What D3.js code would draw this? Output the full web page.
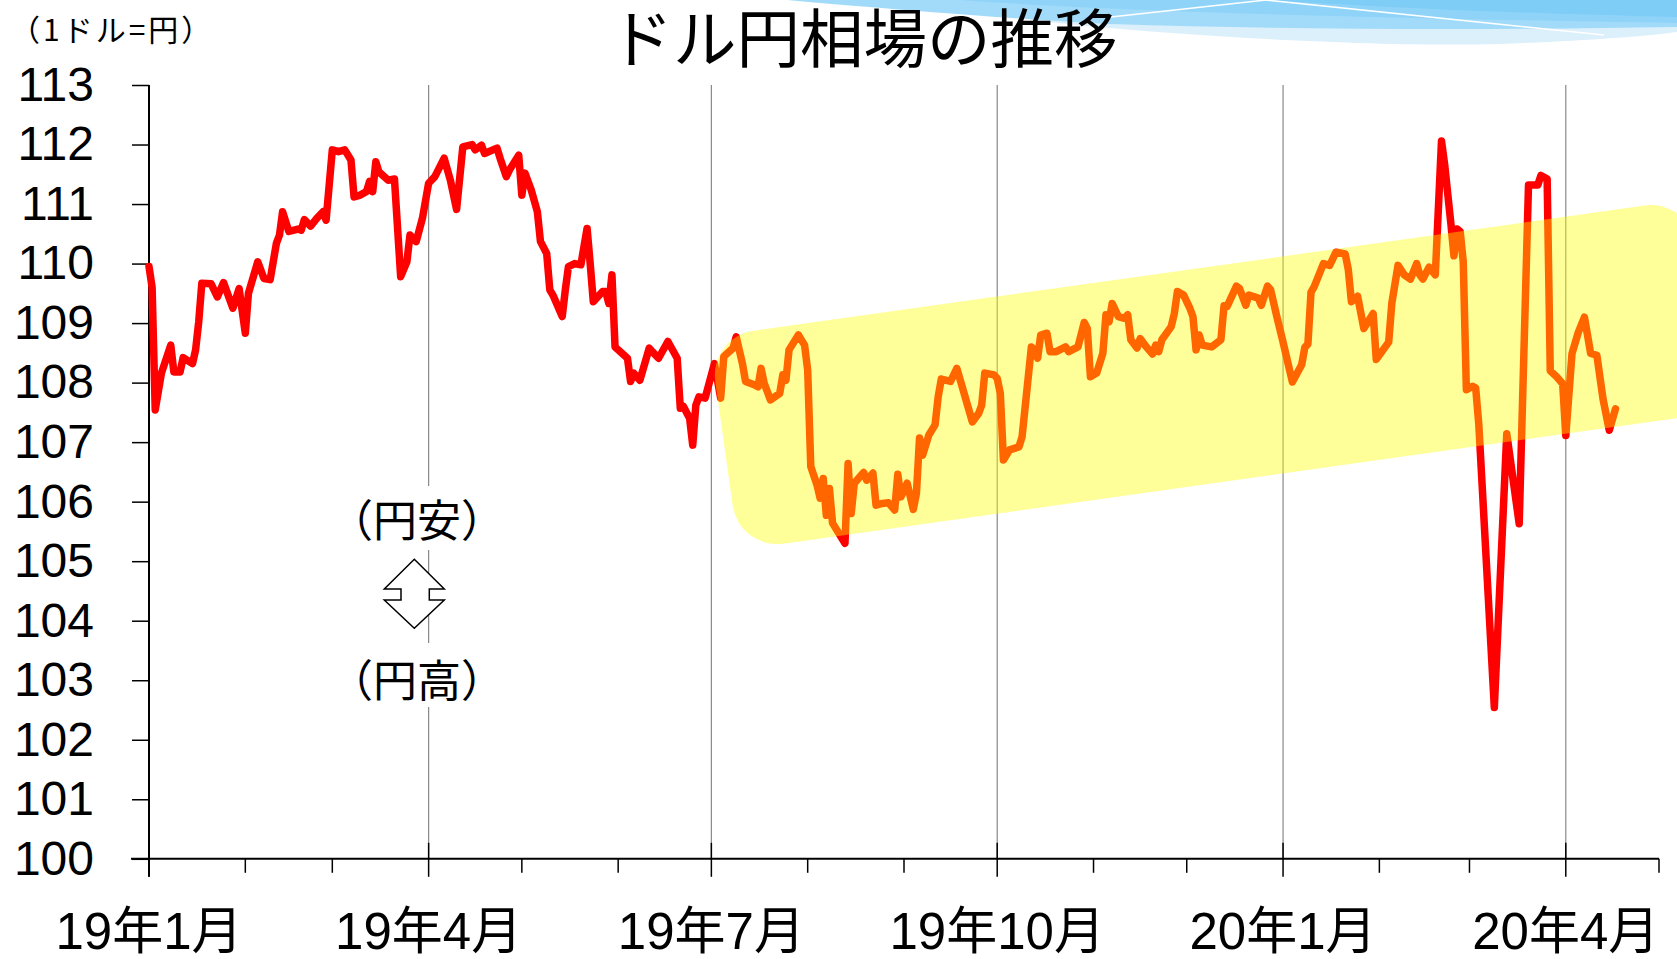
<!DOCTYPE html>
<html>
<head>
<meta charset="utf-8">
<title>ドル円相場の推移</title>
<style>
body { margin:0; background:#fff; }
svg { display:block; }
.axis text { font-family:"Liberation Sans", "Noto Sans CJK JP", sans-serif; fill:#000; }
.jp { font-family:"Noto Sans CJK JP", sans-serif; fill:#000; }
</style>
</head>
<body>
<svg id="chart" width="1677" height="959"></svg>
<script src="https://cdnjs.cloudflare.com/ajax/libs/d3/7.8.5/d3.min.js"></script>
<script>

// --- data ---
const dates = [
  "2019-01-01","2019-01-02","2019-01-03","2019-01-05","2019-01-08","2019-01-09","2019-01-11","2019-01-12",
  "2019-01-15","2019-01-16","2019-01-17","2019-01-18","2019-01-21","2019-01-23","2019-01-25","2019-01-28","2019-01-30",
  "2019-02-01","2019-02-02","2019-02-05","2019-02-07","2019-02-09","2019-02-11","2019-02-12","2019-02-13","2019-02-15",
  "2019-02-18","2019-02-19","2019-02-20","2019-02-22","2019-02-24","2019-02-26","2019-02-27",
  "2019-03-01","2019-03-03","2019-03-05","2019-03-07","2019-03-08","2019-03-10","2019-03-12","2019-03-13","2019-03-14",
  "2019-03-15","2019-03-16","2019-03-19","2019-03-21","2019-03-23","2019-03-25","2019-03-26","2019-03-28","2019-03-30",
  "2019-04-01","2019-04-03","2019-04-06","2019-04-08","2019-04-10","2019-04-12","2019-04-15","2019-04-16","2019-04-18",
  "2019-04-19","2019-04-23","2019-04-24","2019-04-26","2019-04-27","2019-04-30",
  "2019-05-01","2019-05-02","2019-05-04","2019-05-06","2019-05-07","2019-05-09","2019-05-10","2019-05-11","2019-05-14",
  "2019-05-15","2019-05-16","2019-05-18","2019-05-20","2019-05-22","2019-05-23","2019-05-24","2019-05-27","2019-05-28",
  "2019-05-29","2019-05-30","2019-05-31",
  "2019-06-04","2019-06-05","2019-06-06","2019-06-08","2019-06-11","2019-06-12","2019-06-14","2019-06-17","2019-06-20",
  "2019-06-21","2019-06-22","2019-06-24","2019-06-25","2019-06-26","2019-06-27","2019-06-29",
  "2019-07-02","2019-07-04","2019-07-05","2019-07-08","2019-07-09","2019-07-11","2019-07-12","2019-07-15","2019-07-16",
  "2019-07-17","2019-07-18","2019-07-20","2019-07-23","2019-07-24","2019-07-25","2019-07-26","2019-07-29","2019-07-31",
  "2019-08-01","2019-08-02","2019-08-04","2019-08-05","2019-08-06","2019-08-07","2019-08-08","2019-08-09","2019-08-13",
  "2019-08-14","2019-08-15","2019-08-16","2019-08-19","2019-08-20","2019-08-22","2019-08-23","2019-08-25","2019-08-27",
  "2019-08-29","2019-08-30","2019-08-31",
  "2019-09-02","2019-09-04","2019-09-05","2019-09-06","2019-09-07","2019-09-09","2019-09-11","2019-09-12","2019-09-13",
  "2019-09-16","2019-09-18","2019-09-23","2019-09-25","2019-09-26","2019-09-27","2019-09-30",
  "2019-10-01","2019-10-02","2019-10-03","2019-10-05","2019-10-08","2019-10-09","2019-10-12","2019-10-13","2019-10-14",
  "2019-10-15","2019-10-17","2019-10-18","2019-10-20","2019-10-23","2019-10-24","2019-10-27","2019-10-29","2019-10-30",
  "2019-10-31",
  "2019-11-02","2019-11-04","2019-11-05","2019-11-06","2019-11-07","2019-11-09","2019-11-11","2019-11-12","2019-11-13",
  "2019-11-15","2019-11-16","2019-11-18","2019-11-20","2019-11-21","2019-11-22","2019-11-23","2019-11-26","2019-11-27",
  "2019-11-28","2019-11-30",
  "2019-12-02","2019-12-03","2019-12-04","2019-12-05","2019-12-06","2019-12-09","2019-12-12","2019-12-13","2019-12-14",
  "2019-12-17","2019-12-18","2019-12-20","2019-12-21","2019-12-24","2019-12-25","2019-12-27","2019-12-28","2019-12-30",
  "2020-01-01","2020-01-04","2020-01-07","2020-01-08","2020-01-09","2020-01-10","2020-01-11","2020-01-14","2020-01-16",
  "2020-01-18","2020-01-21","2020-01-22","2020-01-23","2020-01-25","2020-01-27","2020-01-30","2020-01-31",
  "2020-02-04","2020-02-05","2020-02-07","2020-02-09","2020-02-11","2020-02-13","2020-02-14","2020-02-15","2020-02-17",
  "2020-02-19","2020-02-21","2020-02-22","2020-02-24","2020-02-25","2020-02-26","2020-02-27","2020-02-28","2020-02-29",
  "2020-03-02","2020-03-03","2020-03-04","2020-03-09","2020-03-13","2020-03-17","2020-03-20","2020-03-23","2020-03-24",
  "2020-03-26","2020-03-27","2020-03-29","2020-03-31",
  "2020-04-01","2020-04-03","2020-04-05","2020-04-07","2020-04-09","2020-04-11","2020-04-13","2020-04-15","2020-04-17"
];
const rates = [
  109.95,109.6,107.54,108.16,108.63,108.18,108.18,108.42,
  108.32,108.55,109.02,109.67,109.66,109.44,109.68,109.25,109.58,
  108.83,109.5,110.03,109.75,109.73,110.34,110.48,110.87,110.54,
  110.58,110.56,110.74,110.63,110.76,110.87,110.73,
  111.91,111.88,111.91,111.74,111.12,111.15,111.21,111.38,111.21,
  111.71,111.54,111.4,111.42,109.78,110.03,110.48,110.37,110.76,
  111.35,111.46,111.77,111.4,110.91,111.96,112.0,111.91,111.99,
  111.85,111.94,111.77,111.46,111.57,111.82,
  111.15,111.52,111.24,110.87,110.37,110.17,109.56,109.47,109.11,
  109.56,109.95,110.0,109.98,110.59,110.0,109.36,109.53,109.53,
  109.33,109.81,108.6,
  108.41,108.02,108.16,108.04,108.58,108.52,108.41,108.69,108.41,
  107.57,107.6,107.4,106.95,107.62,107.76,107.74,
  108.32,107.74,108.44,108.58,108.77,108.32,108.02,107.96,107.93,
  108.24,107.99,107.71,107.82,108.13,108.04,108.55,108.8,108.63,
  108.21,106.59,106.28,106.06,106.39,105.77,106.22,105.64,105.3,
  106.64,105.8,106.31,106.49,106.36,106.48,105.94,105.97,105.98,
  105.86,106.46,106.08,
  106.31,105.87,106.14,107.07,106.78,107.12,107.29,107.76,108.06,
  108.02,108.24,107.34,107.48,107.62,108.16,108.13,
  108.07,107.82,106.7,106.87,106.92,107.09,108.6,108.55,108.41,
  108.8,108.83,108.52,108.52,108.6,108.52,108.6,109.01,108.91,
  108.1,
  108.16,108.49,109.14,109.02,109.33,109.11,109.08,109.14,108.72,
  108.58,108.74,108.6,108.48,108.63,108.52,108.72,108.94,109.16,
  109.53,109.47,
  109.25,109.11,108.55,108.8,108.63,108.6,108.72,109.29,109.28,
  109.62,109.58,109.3,109.47,109.42,109.3,109.62,109.56,109.11,
  108.68,108.01,108.3,108.59,108.65,109.52,109.61,110.0,109.97,
  110.19,110.16,109.9,109.36,109.45,108.91,109.16,108.39,
  108.68,109.33,109.97,109.81,109.74,110.0,109.81,109.74,109.94,
  109.81,112.06,111.67,110.68,110.13,110.58,110.54,110.03,107.88,
  107.94,107.91,107.3,102.54,107.14,105.63,111.32,111.32,111.48,
  111.42,108.2,108.1,107.98,
  107.11,108.49,108.84,109.1,108.49,108.46,107.72,107.2,107.56
];
const yTicks = [100,101,102,103,104,105,106,107,108,109,110,111,112,113];
const quarterDates = ["2019-01-01","2019-04-01","2019-07-01","2019-10-01","2020-01-01","2020-04-01"];
const quarterLabels = ["19年1月","19年4月","19年7月","19年10月","20年1月","20年4月"];

const parse = d3.utcParse("%Y-%m-%d");
const data = dates.map((d, i) => ({date: parse(d), v: rates[i]}));
const start = parse("2019-01-01"), end = parse("2020-05-01");

const x = d3.scaleUtc().domain([start, end]).range([149, 1659]);
const y = d3.scaleLinear().domain([100, 113]).range([858.8, 85]);
const y0 = y(100);

const svg = d3.select("#chart");

// decoration in the top right corner
const deco = svg.append("g");
deco.append("path").attr("fill", "#dcf0fc")
  .attr("d", "M1030,20 C1200,39 1400,47 1500,44 C1580,41 1640,37 1677,32 L1677,0 L1030,0 Z");
deco.append("path").attr("fill", "#a2dbf9")
  .attr("d", "M787,0 C900,10 1000,18 1110,24 C1300,30 1500,30 1677,27 L1677,0 Z");
deco.append("path").attr("fill", "#8fd4f8")
  .attr("d", "M960,0 C1100,10 1300,17 1677,23 L1677,0 Z");
deco.append("path").attr("fill", "#7dcdf7")
  .attr("d", "M1266,0 L1677,0 L1677,17 C1500,13 1380,7 1266,0 Z");
deco.append("path").attr("fill", "none").attr("stroke", "#fff").attr("stroke-width", 1.5)
  .attr("d", "M1111,17 L1266,0 L1604,35");

// vertical grid lines
svg.append("g").selectAll("line")
  .data(quarterDates.slice(1))
  .join("line")
    .attr("x1", d => x(parse(d))).attr("x2", d => x(parse(d)))
    .attr("y1", y(113)).attr("y2", y0)
    .attr("stroke", "#888").attr("stroke-width", 1.2);

// y axis
const gy = svg.append("g")
    .attr("class", "axis")
    .attr("transform", "translate(149,0)")
    .call(d3.axisLeft(y).tickValues(yTicks).tickSize(17).tickPadding(38).tickSizeOuter(0));
gy.select(".domain").remove();
gy.selectAll("line").attr("stroke", "#000").attr("stroke-width", 1.5);
gy.selectAll("text").attr("font-size", 48);

svg.append("line")
    .attr("x1", 149).attr("x2", 149).attr("y1", y(113)).attr("y2", y0 + 18)
    .attr("stroke", "#000").attr("stroke-width", 2);

// x axis
svg.append("line")
    .attr("x1", 131).attr("x2", x(end)).attr("y1", y0).attr("y2", y0)
    .attr("stroke", "#000").attr("stroke-width", 2);

const months = d3.utcMonth.range(start, d3.utcDay.offset(end, 1));
svg.append("g").selectAll("line")
  .data(months)
  .join("line")
    .attr("x1", d => x(d)).attr("x2", d => x(d))
    .attr("y1", d => d.getUTCMonth() % 3 === 0 && d < end ? y0 - 16 : y0)
    .attr("y2", d => d.getUTCMonth() % 3 === 0 && d < end ? y0 + 18 : y0 + 14)
    .attr("stroke", "#000").attr("stroke-width", 1.5);

svg.append("g").attr("class", "axis").selectAll("text")
  .data(quarterDates)
  .join("text")
    .attr("x", d => x(parse(d)))
    .attr("y", 949)
    .attr("text-anchor", "middle")
    .attr("font-size", 51)
    .text((d, i) => quarterLabels[i]);

// the rate line
svg.append("path")
    .datum(data)
    .attr("fill", "none")
    .attr("stroke", "#ff0000")
    .attr("stroke-width", 7.5)
    .attr("stroke-linejoin", "round")
    .attr("stroke-linecap", "round")
    .attr("d", d3.line().x(d => x(d.date)).y(d => y(d.v)));

// highlighted range, drawn over the line
svg.append("rect")
    .attr("width", 990).attr("height", 215).attr("rx", 45)
    .attr("transform", "translate(709,337) rotate(-8)")
    .attr("fill", "#ffff00").attr("fill-opacity", 0.4);

// 円安 / 円高 note
svg.append("rect").attr("x", 345).attr("y", 486).attr("width", 145).attr("height", 64).attr("fill", "#fff");
svg.append("rect").attr("x", 345).attr("y", 643).attr("width", 145).attr("height", 64).attr("fill", "#fff");
svg.append("text").attr("class", "jp")
    .attr("x", 417).attr("y", 537).attr("text-anchor", "middle").attr("font-size", 44)
    .text("（円安）");
svg.append("text").attr("class", "jp")
    .attr("x", 417).attr("y", 697).attr("text-anchor", "middle").attr("font-size", 44)
    .text("（円高）");
svg.append("path")
    .attr("d", "M414.3,559.3 L444.3,589 L429.3,589 L429.3,600 L444.3,600 L414.3,628.3 L384.3,600 L401,600 L401,589 L384.3,589 Z")
    .attr("fill", "#fff").attr("stroke", "#000").attr("stroke-width", 1.5);

// titles
svg.append("text").attr("class", "jp")
    .attr("x", 863.6).attr("y", 62).attr("text-anchor", "middle").attr("font-size", 63.5)
    .text("ドル円相場の推移");
svg.append("text").attr("class", "jp")
    .attr("x", 10).attr("y", 41).attr("font-size", 30).attr("letter-spacing", 3)
    .text("（1ドル=円）");

</script>
</body>
</html>
